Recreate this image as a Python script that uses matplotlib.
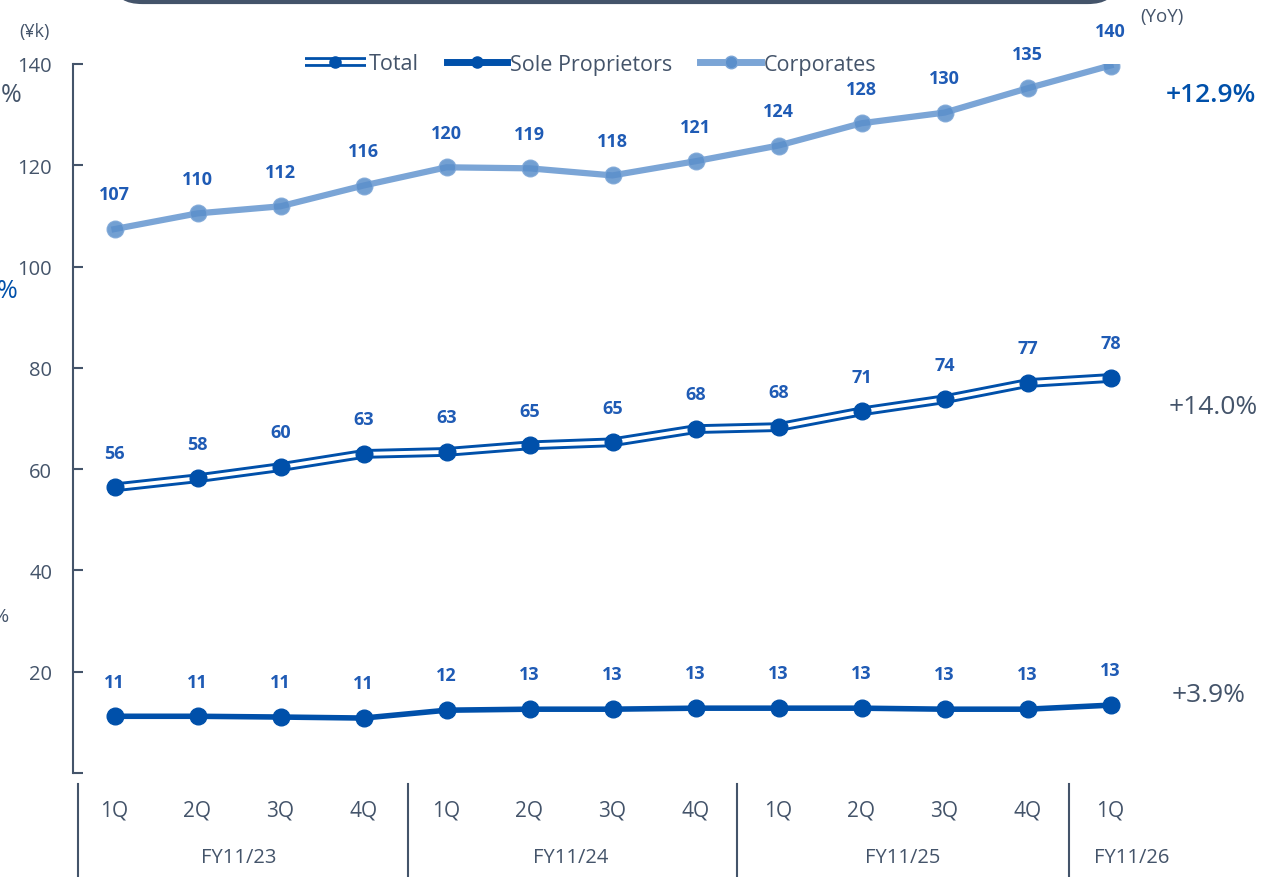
import matplotlib
matplotlib.use("Agg")
import matplotlib.pyplot as plt
from matplotlib.lines import Line2D
from matplotlib.legend_handler import HandlerTuple
from matplotlib.patches import FancyBboxPatch

plt.rcParams['font.family'] = ['Open Sans', 'DejaVu Sans']

# data
quarters = ["1Q", "2Q", "3Q", "4Q", "1Q", "2Q", "3Q", "4Q", "1Q", "2Q", "3Q", "4Q", "1Q"]
fiscal_years = ["FY11/23", "FY11/24", "FY11/25", "FY11/26"]
total = [56.4, 58.2, 60.4, 63.0, 63.4, 64.7, 65.3, 67.9, 68.3, 71.4, 73.8, 77.0, 78.0]
sole = [11.2, 11.2, 11.05, 10.85, 12.4, 12.6, 12.6, 12.8, 12.8, 12.8, 12.6, 12.6, 13.4]
corporates = [107.4, 110.5, 111.9, 116.0, 119.6, 119.4, 118.0, 120.8, 123.9, 128.3, 130.4, 135.2, 139.7]
total_labels = [56, 58, 60, 63, 63, 65, 65, 68, 68, 71, 74, 77, 78]
sole_labels = [11, 11, 11, 11, 12, 13, 13, 13, 13, 13, 13, 13, 13]
corp_labels = [107, 110, 112, 116, 120, 119, 118, 121, 124, 128, 130, 135, 140]
yoy = ["+12.9%", "+14.0%", "+3.9%"]

DARK = "#0050AA"
LIGHT = "#7BA5D6"
LABEL = "#1F5BB5"
GRAY = "#44546A"

fig = plt.figure(figsize=(12.78, 8.78), dpi=100)
ax = fig.add_axes([73 / 1278, 1 - 774 / 878, (1152 - 73) / 1278, (774 - 65) / 878])
x = list(range(len(quarters)))

# corporates
ax.plot(x, corporates, color=LIGHT, lw=4.5, zorder=2)
ax.plot(x, corporates, ls="none", marker="o", ms=12, mfc="#5B8FCB", mec="#7BA5D6", alpha=0.85, zorder=3)

# total (double line)
ax.plot(x, total, color=DARK, lw=7, zorder=2, solid_capstyle="butt")
ax.plot(x, total, color="white", lw=2.8, zorder=3, solid_capstyle="butt")
ax.plot(x, total, ls="none", marker="o", ms=12, color=DARK, zorder=4)

# sole proprietors
ax.plot(x, sole, color=DARK, lw=4, zorder=2)
ax.plot(x, sole, ls="none", marker="o", ms=12, color=DARK, zorder=4)

for series, labels in [(corporates, corp_labels), (total, total_labels), (sole, sole_labels)]:
    for xi, v, lab in zip(x, series, labels):
        ax.annotate(str(lab), (xi, v), xytext=(0, 25), textcoords="offset points",
                    ha="center", va="center", fontsize=13, fontweight="bold", color=LABEL)

ax.set_xlim(-0.5, 12.5)
ax.set_ylim(0, 140)
ax.set_yticks(range(0, 141, 20))
ax.set_yticklabels([""] + [str(v) for v in range(20, 141, 20)])
ax.set_xticks([])
for s in ["top", "right", "bottom"]:
    ax.spines[s].set_visible(False)
ax.spines["left"].set_color(GRAY)
ax.spines["left"].set_linewidth(1.5)
ax.tick_params(axis="y", direction="in", length=7, width=1.5, color=GRAY,
               labelsize=14.5, labelcolor=GRAY, pad=15)

# category axis
for xi, q in zip(x, quarters):
    ax.text(xi, -0.052, q, transform=ax.get_xaxis_transform(), ha="center", va="center",
            fontsize=15, color=GRAY)
fy_pos = [1.5, 5.5, 9.5, 12.25]
for xp, fy in zip(fy_pos, fiscal_years):
    ax.text(xp, -0.118, fy, transform=ax.get_xaxis_transform(), ha="center", va="center",
            fontsize=14.5, color=GRAY)
for b in [-0.44, 3.54, 7.5, 11.5]:
    ax.plot([b, b], [-0.016, -0.15], transform=ax.get_xaxis_transform(), color=GRAY,
            lw=1.5, clip_on=False)

# legend
h_total = (Line2D([], [], color=DARK, lw=7, solid_capstyle="butt"),
           Line2D([], [], color="white", lw=3, solid_capstyle="butt"),
           Line2D([], [], ls="none", marker="o", ms=8, color=DARK))
h_sole = Line2D([], [], color=DARK, lw=5, marker="o", ms=8)
h_corp = Line2D([], [], color=LIGHT, lw=5, marker="o", ms=9, mfc="#5B8FCB", mec=LIGHT)
leg = ax.legend([h_total, h_sole, h_corp], ["Total", "Sole Proprietors", "Corporates"],
                handler_map={tuple: HandlerTuple(ndivide=1)},
                loc="center", bbox_to_anchor=(0.48, 1.0), ncol=3, frameon=False,
                fontsize=15.5, handlelength=2.8, handletextpad=0.15, columnspacing=1.3)
for t in leg.get_texts():
    t.set_color(GRAY)

# units and yoy
fig.text(34 / 1278, 1 - 32 / 878, "(¥k)", ha="center", va="center", fontsize=13, color=GRAY)
fig.text(1162 / 1278, 1 - 17 / 878, "(YoY)", ha="center", va="center", fontsize=13.5, color=GRAY)
fig.text(1211 / 1278, 1 - 96 / 878, yoy[0], ha="center", va="center", fontsize=19,
         fontweight="semibold", color=DARK)
fig.text(1213 / 1278, 1 - 408 / 878, yoy[1], ha="center", va="center", fontsize=19, color=GRAY)
fig.text(1209 / 1278, 1 - 696 / 878, yoy[2], ha="center", va="center", fontsize=19, color=GRAY)

# clipped fragments at left edge
fig.text(22 / 1278, 1 - 96 / 878, "%", ha="right", va="center", fontsize=18, color=GRAY)
fig.text(18 / 1278, 1 - 292 / 878, "%", ha="right", va="center", fontsize=18, color=DARK)
fig.text(9 / 1278, 1 - 617 / 878, "%", ha="right", va="center", fontsize=14, color=GRAY)

# top box edge
box = FancyBboxPatch((117 / 1278, 1 - 3 / 878), (1113 - 117) / 1278, 0.2,
                     boxstyle="round,pad=0,rounding_size=0.02", transform=fig.transFigure,
                     facecolor="white", edgecolor=GRAY, lw=3)
fig.add_artist(box)

fig.savefig("out.png", dpi=100)
